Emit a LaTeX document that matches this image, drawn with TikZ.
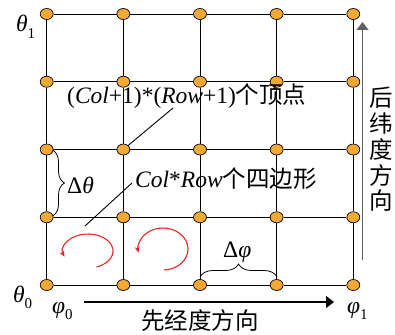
\documentclass[tikz,border=0pt]{standalone}
\usepackage{fontspec}
\setmainfont{Liberation Serif}
\newfontfamily\cjk{Noto Sans CJK SC}
\usetikzlibrary{shapes.geometric,arrows.meta,decorations.pathreplacing}
\definecolor{vorange}{HTML}{F4A935}
\definecolor{rred}{HTML}{E8262A}
\definecolor{agray}{HTML}{606060}
\newcommand\sbs[1]{\raisebox{-0.28em}{\fontsize{15}{15}\selectfont #1}}
\tikzset{
  vtx/.style={ellipse,draw=black,line width=0.7pt,fill=vorange,minimum width=13pt,minimum height=11pt,inner sep=0pt},
  gridline/.style={line width=0.95pt,black},
  lbl/.style={inner sep=0pt,font=\fontsize{23.5}{27}\selectfont},
  leader/.style={line width=0.9pt,black},
  bigarrow/.style={line width=1.1pt,-{Triangle[length=8pt,width=12pt]}},
  rot/.style={line width=1.1pt,rred,-{Stealth[length=6pt,width=5pt]}},
  brc/.style={line width=0.8pt,decorate,decoration={brace,amplitude=12pt}}
}
\begin{document}
\begin{tikzpicture}[x=1pt,y=1pt]
\useasboundingbox (0,0) rectangle (395,-334);
% vertices
\foreach \i in {0,...,4}{
  \foreach \j in {0,...,4}{
    \node[vtx] (v-\i-\j) at ({46.7+76.65*\i},{-(14+67.75*\j)}) {};
  }
}
% grid lines
\foreach \j in {0,...,4}{
  \foreach \i [evaluate=\i as \k using int(\i+1)] in {0,...,3}{
    \draw[gridline] (v-\i-\j) -- (v-\k-\j);
  }
}
\foreach \i in {0,...,4}{
  \foreach \j [evaluate=\j as \k using int(\j+1)] in {0,...,3}{
    \draw[gridline] (v-\i-\j) -- (v-\i-\k);
  }
}
% axis labels
\node[lbl,anchor=base west] (t1) at (16,-32) {\textit{θ}\sbs{1}};
\node[lbl,anchor=base west] (t0) at (13,-302) {\textit{θ}\sbs{0}};
\node[lbl,anchor=base west] (p0) at (52,-313) {\textit{φ}\sbs{0}};
\node[lbl,anchor=base west] (p1) at (347,-313) {\textit{φ}\sbs{1}};
% direction arrows
\coordinate (hs) at (84,-302);
\coordinate (he) at (334,-302);
\draw[bigarrow,black] (hs) -- (he);
\node[lbl,anchor=base] (hdir) at (200,-329) {\cjk 先经度方向};
\coordinate (vs) at (362.5,-260);
\coordinate (ve) at (362.5,-22);
\draw[bigarrow,agray] (vs) -- (ve);
\node[inner sep=0pt,align=center,font=\cjk\fontsize{23.5}{25.7}\selectfont] (vdir) at (381,-149.5) {后\\纬\\度\\方\\向};
% labels with leaders
\node[lbl,anchor=base west] (lv) at (67,-103.5) {(\textit{Col}+1)*(\textit{Row}+1){\cjk 个顶点}};
\coordinate (lve) at (173,-108);
\draw[leader] (v-1-2) -- (lve);
\node[lbl,anchor=base west] (lq) at (135,-187) {\textit{Col}*\textit{Row}{\cjk 个四边形}};
\coordinate (lqs) at (85,-226);
\coordinate (lqe) at (132,-183);
\draw[leader] (lqs) -- (lqe);
% braces
\coordinate (b1a) at (52.5,-150);
\coordinate (b1b) at (52.5,-216);
\draw[brc] (b1a) -- (b1b);
\node[lbl,anchor=base west] (dt) at (67,-193) {Δ\textit{θ}};
\coordinate (b2a) at (200,-277);
\coordinate (b2b) at (277,-277);
\draw[brc,decoration={brace,amplitude=13pt}] (b2a) -- (b2b);
\node[lbl,anchor=base west] (dp) at (223,-257) {Δ\textit{φ}};
% rotation arrows
\draw[rot] (88,-251) ++(-70:25 and 17) arc[start angle=-70,end angle=200,x radius=25,y radius=17];
\draw[rot] (163,-250) ++(-88:25 and 20) arc[start angle=-88,end angle=190,x radius=25,y radius=21];
\end{tikzpicture}
\end{document}
